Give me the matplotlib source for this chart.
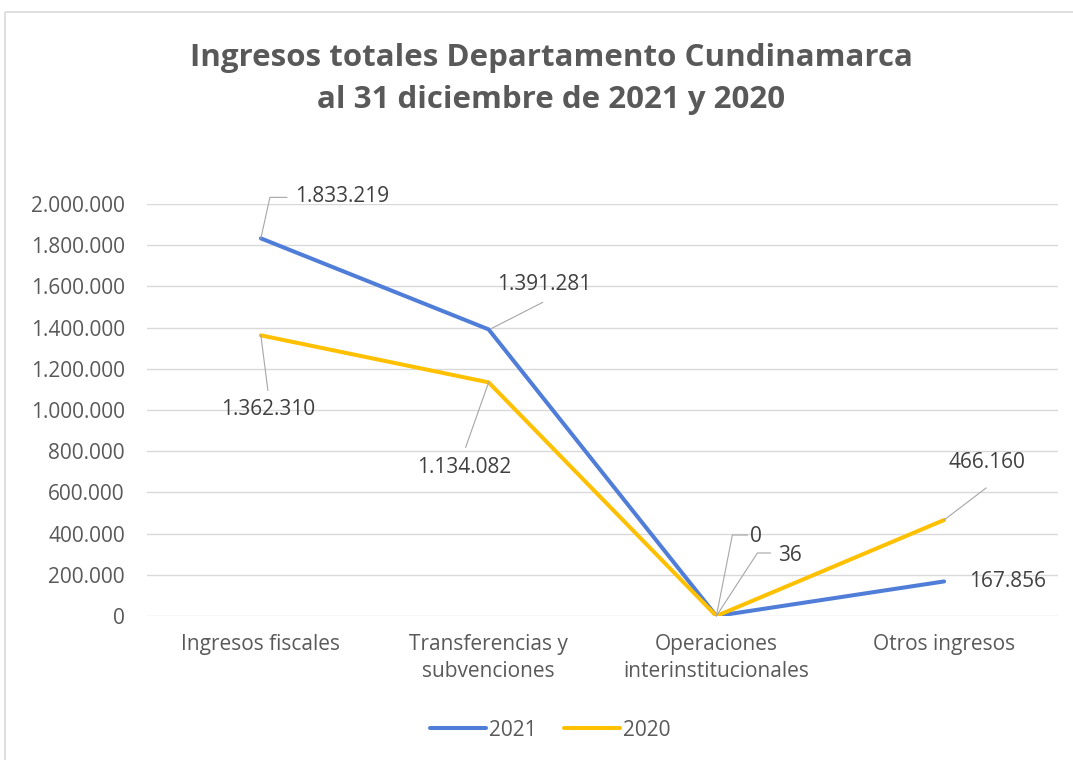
import matplotlib
matplotlib.use("Agg")
import matplotlib.pyplot as plt
from matplotlib.lines import Line2D
from matplotlib.patches import Rectangle
from matplotlib.transforms import IdentityTransform
from matplotlib.ticker import FuncFormatter

categories = ["Ingresos fiscales", "Transferencias y\nsubvenciones",
              "Operaciones\ninterinstitucionales", "Otros ingresos"]
vals_2021 = [1833219, 1391281, 0, 167856]
vals_2020 = [1362310, 1134082, 36, 466160]
series_names = ["2021", "2020"]
yticks = list(range(0, 2000001, 200000))

C2021 = "#4F7DD8"
C2020 = "#FFC000"
TXT = "#595959"
LBL = "#404040"
GRID = "#D9D9D9"
FONT = ["Open Sans", "DejaVu Sans"]
plt.rcParams["font.family"] = FONT

W, H = 1073, 760
fig = plt.figure(figsize=(W / 100, H / 100), dpi=100)
fig.patch.set_facecolor("white")
fig.add_artist(Rectangle((5 / W, 1 - 12 / H), 2, -2, transform=fig.transFigure,
                         fill=False, edgecolor=GRID, lw=1.2))

ax = fig.add_axes([147 / W, 1 - 616 / H, (1058 - 147) / W, (616 - 204) / H])
x = list(range(len(categories)))
ax.plot(x, vals_2021, color=C2021, lw=2.9, label=series_names[0], solid_capstyle="round", zorder=3)
ax.plot(x, vals_2020, color=C2020, lw=2.9, label=series_names[1], solid_capstyle="round", zorder=3)
ax.set_xlim(-0.5, len(categories) - 0.5)
ax.set_ylim(0, 2000000)
ax.set_yticks(yticks)
ax.yaxis.set_major_formatter(FuncFormatter(lambda v, p: f"{int(v):,}".replace(",", ".")))
ax.set_xticks(x)
ax.set_xticklabels(categories, linespacing=1.35)
ax.tick_params(axis="both", length=0, labelsize=15, labelcolor=TXT)
ax.tick_params(axis="y", pad=16)
ax.tick_params(axis="x", pad=13)
ax.grid(axis="y", color=GRID, lw=1)
ax.set_axisbelow(True)
for s in ax.spines.values():
    s.set_visible(False)

fig.text(551 / W, 1 - 58 / H, "Ingresos totales Departamento Cundinamarca",
         ha="center", va="center", fontsize=22.5, fontweight="bold", color=TXT)
fig.text(551 / W, 1 - 100 / H, "al 31 diciembre de 2021 y 2020",
         ha="center", va="center", fontsize=22.5, fontweight="bold", color=TXT)

# data labels: (series index, category index, text offset px, leader path offsets px)
labels = [
    (0, 0, (81, 42), [(0, 0), (9, 41), (26, 41)]),
    (0, 1, (56, 45), [(3, 1), (54, 27)]),
    (1, 0, (7, -74), [(0, 0), (7, -55)]),
    (1, 1, (-24, -85), [(0, 0), (-23, -65)]),
    (0, 2, (40, 79), [(0, 0), (16, 81), (31, 81)]),
    (1, 2, (74, 60), [(0, 0), (41, 63), (54, 63)]),
    (1, 3, (43, 57), [(0, 0), (42, 32)]),
    (0, 3, (63, 0), None),
]
series_vals = [vals_2021, vals_2020]
fig.canvas.draw()
for si, ci, (dx, dy), path in labels:
    v = series_vals[si][ci]
    px, py = ax.transData.transform((ci, v))
    fig.text((px + dx) / W, (py + dy) / H, f"{v:,}".replace(",", "."),
             ha="center", va="center", fontsize=15, color=LBL)
    if path:
        xs = [px + a for a, b in path]
        ys = [py + b for a, b in path]
        fig.add_artist(Line2D(xs, ys, transform=IdentityTransform(), color="#A6A6A6", lw=0.8))

fig.legend(loc="center", bbox_to_anchor=(550 / W, 1 - 730 / H), ncol=2, frameon=False,
           fontsize=15, handlelength=2.7, handletextpad=0.15, columnspacing=1.3,
           labelcolor=TXT)

fig.savefig("out.png", dpi=100)
